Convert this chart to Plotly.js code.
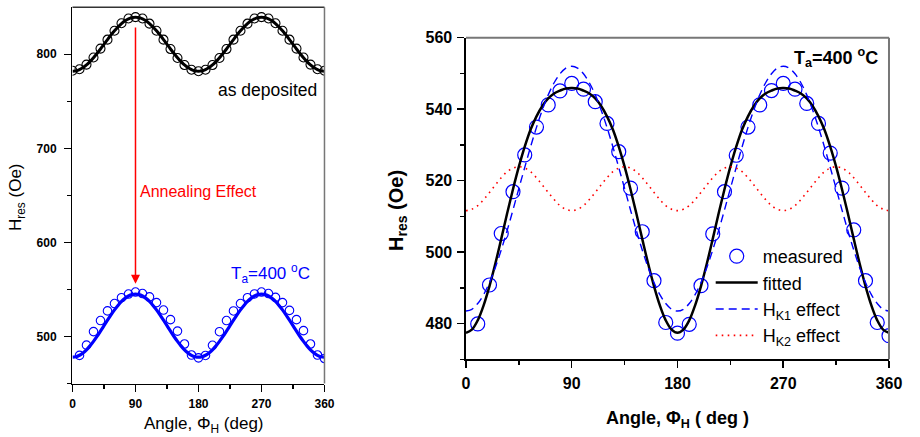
<!DOCTYPE html>
<html>
<head>
<meta charset="utf-8">
<script src="https://cdn.plot.ly/plotly-3.0.1.min.js"></script>
<style>html,body{margin:0;padding:0;background:#fff;}#chart{width:920px;height:437px;}</style>
</head>
<body>
<div id="chart"></div>
<script>
// ---------- data ----------
const anglesFine = [0,5,10,15,20,25,30,35,40,45,50,55,60,65,70,75,80,85,90,95,100,105,110,115,120,125,130,135,140,145,150,155,160,165,170,175,180,185,190,195,200,205,210,215,220,225,230,235,240,245,250,255,260,265,270,275,280,285,290,295,300,305,310,315,320,325,330,335,340,345,350,355,360];
const anglesDeposited = [0,10,20,30,40,50,60,70,80,90,100,110,120,130,140,150,160,170,180,190,200,210,220,230,240,250,260,270,280,290,300,310,320,330,340,350,360];
const anglesMeasured = [10,20,30,40,50,60,70,80,90,100,110,120,130,140,150,160,170,180,190,200,210,220,230,240,250,260,270,280,290,300,310,320,330,340,350,360];

// left panel: as deposited (measured circles and fit)
const depositedMeasured = [782.5,784,789,796.5,806,815.5,825,833,838,839.5,838,832.5,825,815.5,805.5,796,788.5,783.5,782,783.5,788.5,796,805.5,815.5,825,832.5,838,839.5,838,833,825,815.5,806,796.5,789,784,782.5];
const depositedFit = [781.9,782.3,783.6,785.8,788.6,792.2,796.3,800.8,805.6,810.6,815.6,820.4,824.9,829.0,832.6,835.5,837.6,838.9,839.3,
  838.9,837.6,835.5,832.6,829.0,824.9,820.4,815.6,810.6,805.6,800.8,796.3,792.2,788.6,785.8,783.6,782.3,781.9,
  782.3,783.6,785.8,788.6,792.2,796.3,800.8,805.6,810.6,815.6,820.4,824.9,829.0,832.6,835.5,837.6,838.9,839.3,
  838.9,837.6,835.5,832.6,829.0,824.9,820.4,815.6,810.6,805.6,800.8,796.3,792.2,788.6,785.8,783.6,782.3,781.9];

// annealed at 400 C: measured values (both panels)
const measured = [479.9,490.8,505.2,516.9,527.2,535.0,541.2,545.1,547.2,545.6,542.1,536.0,528.1,517.9,505.7,492.0,480.3,477.3,479.8,490.6,505.1,516.9,527.1,535.0,541.2,545.2,547.2,545.6,541.6,536.0,527.7,517.9,506.2,492.0,480.3,476.6];
// left panel blue fit
const annealedFitLeft = [478.0,478.5,480.0,482.5,485.8,490.0,494.8,500.0,505.7,511.5,517.3,523.0,528.3,533.0,537.2,540.5,543.0,544.5,545.0,
  544.5,543.0,540.5,537.2,533.0,528.3,523.0,517.3,511.5,505.7,500.0,494.8,490.0,485.8,482.5,480.0,478.5,478.0,
  478.5,480.0,482.5,485.8,490.0,494.8,500.0,505.7,511.5,517.3,523.0,528.3,533.0,537.2,540.5,543.0,544.5,545.0,
  544.5,543.0,540.5,537.2,533.0,528.3,523.0,517.3,511.5,505.7,500.0,494.8,490.0,485.8,482.5,480.0,478.5,478.0];
// right panel curves
const fitted = [477.4,478.3,480.9,485.1,490.5,496.8,503.7,510.8,517.6,523.9,529.5,534.3,538.0,540.9,543.0,544.4,545.2,545.8,545.9,
  545.8,545.2,544.4,543.0,540.9,538.0,534.3,529.5,523.9,517.6,510.8,503.7,496.8,490.5,485.1,480.9,478.3,477.4,
  478.3,480.9,485.1,490.5,496.8,503.7,510.8,517.6,523.9,529.5,534.3,538.0,540.9,543.0,544.4,545.2,545.8,545.9,
  545.8,545.2,544.4,543.0,540.9,538.0,534.3,529.5,523.9,517.6,510.8,503.7,496.8,490.5,485.1,480.9,478.3,477.4];
const hk1Effect = [483.5,484.0,485.6,488.1,491.5,495.7,500.6,506.0,511.8,517.8,523.7,529.5,534.9,539.8,544.0,547.4,549.9,551.5,552.0,
  551.5,549.9,547.4,544.0,539.8,534.9,529.5,523.7,517.8,511.8,506.0,500.6,495.7,491.5,488.1,485.6,484.0,483.5,
  484.0,485.6,488.1,491.5,495.7,500.6,506.0,511.8,517.8,523.7,529.5,534.9,539.8,544.0,547.4,549.9,551.5,552.0,
  551.5,549.9,547.4,544.0,539.8,534.9,529.5,523.7,517.8,511.8,506.0,500.6,495.7,491.5,488.1,485.6,484.0,483.5];
const hk2Effect = [511.6,512.0,513.0,514.7,516.7,518.8,520.8,522.5,523.5,523.9,523.5,522.5,520.8,518.8,516.7,514.7,513.0,512.0,511.6,
  512.0,513.0,514.7,516.7,518.8,520.8,522.5,523.5,523.9,523.5,522.5,520.8,518.8,516.7,514.7,513.0,512.0,511.6,
  512.0,513.0,514.7,516.7,518.8,520.8,522.5,523.5,523.9,523.5,522.5,520.8,518.8,516.7,514.7,513.0,512.0,511.6,
  512.0,513.0,514.7,516.7,518.8,520.8,522.5,523.5,523.9,523.5,522.5,520.8,518.8,516.7,514.7,513.0,512.0,511.6];

const xTicks = [0,90,180,270,360];
const xMinor = [45,135,225,315];
const leftYTicks = [500,600,700,800];
const leftYMinor = [450,550,650,750];
const rightYTicks = [480,500,520,540,560];
const rightYMinor = [470,490,510,530,550];

// ---------- chart ----------
const F = 'Arial, "Liberation Sans", sans-serif';
const BLUE = '#0000ff', RED = '#ff0000';

const traces = [
  {x: anglesDeposited, y: depositedMeasured, xaxis:'x', yaxis:'y', mode:'markers', showlegend:false,
   marker:{symbol:'circle-open', size:9, color:'black', line:{width:1.1, color:'black'}}},
  {x: anglesFine, y: depositedFit, xaxis:'x', yaxis:'y', mode:'lines', showlegend:false,
   line:{color:'black', width:3, shape:'spline'}},
  {x: anglesMeasured, y: measured, xaxis:'x', yaxis:'y', mode:'markers', showlegend:false,
   marker:{symbol:'circle-open', size:8.5, color:BLUE, line:{width:1.1, color:BLUE}}},
  {x: anglesFine, y: annealedFitLeft, xaxis:'x', yaxis:'y', mode:'lines', showlegend:false,
   line:{color:BLUE, width:3.2, shape:'spline'}},

  {x: anglesMeasured, y: measured, xaxis:'x2', yaxis:'y2', mode:'markers', name:'measured',
   marker:{symbol:'circle-open', size:14, color:BLUE, line:{width:1.2, color:BLUE}}},
  {x: anglesFine, y: fitted, xaxis:'x2', yaxis:'y2', mode:'lines', name:'fitted',
   line:{color:'black', width:2.5, shape:'spline'}},
  {x: anglesFine, y: hk1Effect, xaxis:'x2', yaxis:'y2', mode:'lines', name:'H<sub>K1</sub> effect',
   line:{color:BLUE, width:1.4, dash:'8px,5px', shape:'spline'}},
  {x: anglesFine, y: hk2Effect, xaxis:'x2', yaxis:'y2', mode:'lines', name:'H<sub>K2</sub> effect',
   line:{color:RED, width:1.6, dash:'1.6px,4.4px', shape:'spline'}}
];

function xAxis(domain, anchor, size){
  return {domain: domain, anchor: anchor, range:[0,360], tickvals: xTicks, ticktext: xTicks.map(String),
    ticks:'outside', ticklen:7, tickwidth:1.5, tickcolor:'black',
    minor:{tickvals: xMinor, ticks:'outside', ticklen:4, tickwidth:1.5, tickcolor:'black'},
    showline:true, linecolor:'black', linewidth:1.5, showgrid:false, zeroline:false, mirror:false,
    tickfont:{family:F, size:size, weight:'bold', color:'black'}, ticklabelstandoff:2};
}
function yAxis(domain, anchor, range, ticks, minor, size, standoff){
  return {domain: domain, anchor: anchor, range: range, tickvals: ticks, ticktext: ticks.map(String),
    ticks:'outside', ticklen:7, tickwidth:1.5, tickcolor:'black',
    minor:{tickvals: minor, ticks:'outside', ticklen:4, tickwidth:1.5, tickcolor:'black'},
    showline:true, linecolor:'black', linewidth:1.5, showgrid:false, zeroline:false, mirror:false,
    tickfont:{family:F, size:size, weight:'bold', color:'black'}, ticklabelstandoff:standoff};
}

const layout = {
  width:920, height:437, margin:{l:0, r:0, t:0, b:0},
  paper_bgcolor:'white', plot_bgcolor:'white',
  font:{family:F, color:'black'},
  xaxis: xAxis([0.0788, 0.3527], 'y', 12),
  yaxis: yAxis([0.1224, 0.9835], 'x', [450,850], leftYTicks, leftYMinor, 12, 5),
  xaxis2: xAxis([0.5065, 0.9663], 'y2', 16),
  yaxis2: yAxis([0.1778, 0.9137], 'x2', [470,560], rightYTicks, rightYMinor, 16, 2),
  showlegend:true,
  legend:{x:0.7725, xanchor:'left', y:1-238/437, yanchor:'top', bgcolor:'rgba(0,0,0,0)',
    font:{family:F, size:18, color:'black'}, itemwidth:42, tracegroupgap:0},
  shapes:[
    {type:'line', xref:'x domain', yref:'y domain', x0:0, x1:1, y0:1, y1:1, line:{color:'#333', width:1.5}},
    {type:'line', xref:'x domain', yref:'y domain', x0:1, x1:1, y0:0, y1:1, line:{color:'#777', width:1.5}},
    {type:'line', xref:'x2 domain', yref:'y2 domain', x0:0, x1:1, y0:1, y1:1, line:{color:'#777', width:2}},
    {type:'line', xref:'x2 domain', yref:'y2 domain', x0:1, x1:1, y0:0, y1:1, line:{color:'#777', width:2}}
  ],
  annotations:[
    // left panel titles
    {xref:'paper', yref:'paper', x:17/920, y:1-197/437, text:'H<sub>res</sub> (Oe)', textangle:-90, showarrow:false,
     font:{family:F, size:17, color:'black'}, xanchor:'center', yanchor:'middle'},
    {xref:'paper', yref:'paper', x:204/920, y:1-425/437, text:'Angle, Φ<sub>H</sub> (deg)', showarrow:false,
     font:{family:F, size:17, color:'black'}, xanchor:'center', yanchor:'middle'},
    // right panel titles
    {xref:'paper', yref:'paper', x:397/920, y:1-211/437, text:'H<sub>res</sub> (Oe)', textangle:-90, showarrow:false,
     font:{family:F, size:20, weight:'bold', color:'black'}, xanchor:'center', yanchor:'middle'},
    {xref:'paper', yref:'paper', x:677/920, y:1-419/437, text:'Angle, Φ<sub>H</sub> ( deg )', showarrow:false,
     font:{family:F, size:18, weight:'bold', color:'black'}, xanchor:'center', yanchor:'middle'},
    // left panel labels
    {xref:'x', yref:'y', x:90, y:556, ax:90, ay:830, axref:'x', ayref:'y', text:'', showarrow:true,
     arrowcolor:RED, arrowwidth:1.5, arrowhead:2, arrowsize:1.2, standoff:0, startstandoff:0},
    {xref:'x', yref:'y', x:94, y:654, text:'Annealing Effect', showarrow:false, xanchor:'left', yanchor:'middle',
     font:{family:F, size:16, color:RED}},
    {xref:'x', yref:'y', x:352, y:762, text:'as deposited', showarrow:false, xanchor:'right', yanchor:'middle',
     font:{family:F, size:17.5, color:'black'}},
    {xref:'x', yref:'y', x:224, y:567, text:'T<sub>a</sub>=400 <sup>o</sup>C', showarrow:false, xanchor:'left', yanchor:'middle',
     font:{family:F, size:17, color:BLUE}},
    // right panel label
    {xref:'x2', yref:'y2', x:352.5, y:554.5, text:'T<sub>a</sub>=400 <sup>o</sup>C', showarrow:false, xanchor:'right', yanchor:'middle',
     font:{family:F, size:18, weight:'bold', color:'black'}}
  ]
};

Plotly.newPlot('chart', traces, layout, {staticPlot:true, displayModeBar:false});
</script>
</body>
</html>
